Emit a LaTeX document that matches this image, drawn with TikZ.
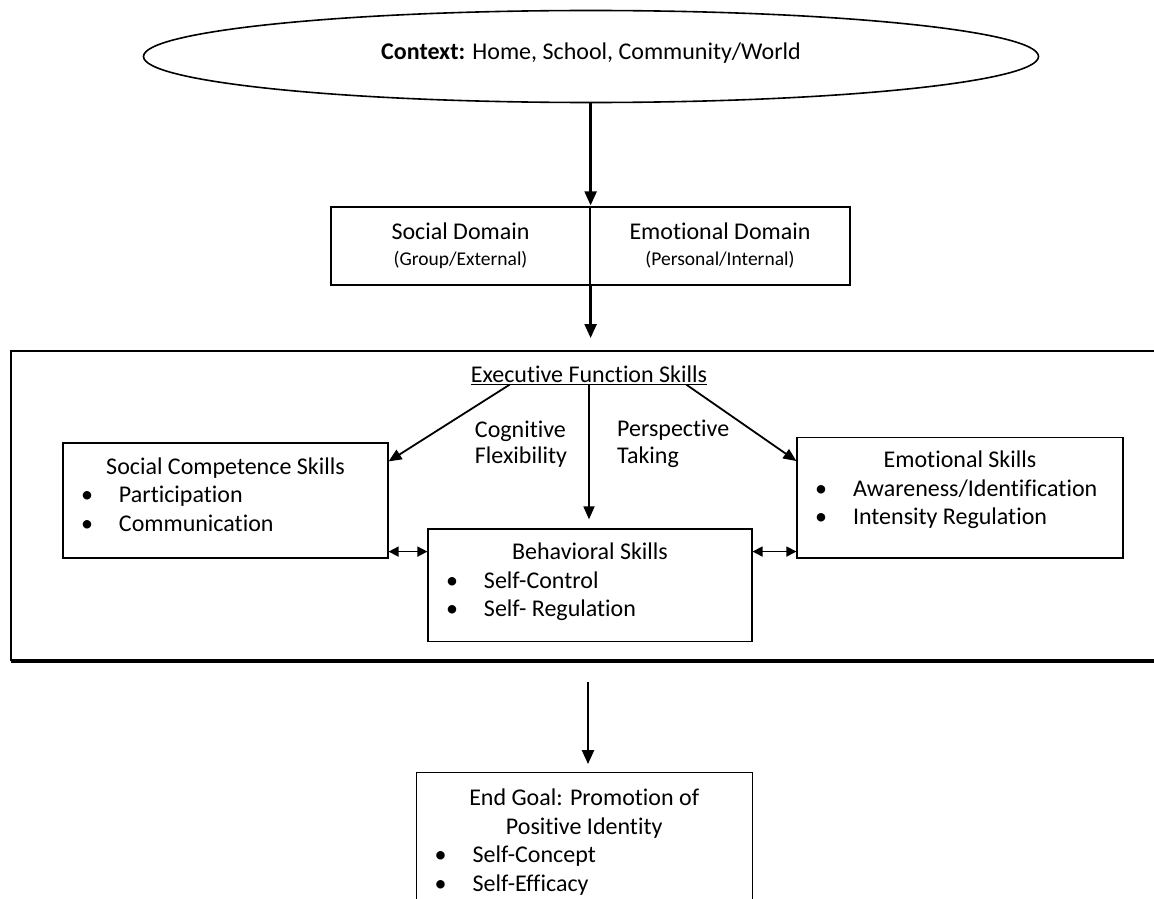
\documentclass[tikz,border=0pt]{standalone}
\usepackage{fontspec}
\setmainfont{Carlito}[Ligatures=NoCommon]
\usetikzlibrary{arrows.meta,shapes}
\newcommand{\bitem}[1]{\par\hspace*{18pt}\makebox[38pt][l]{\textbullet}#1}

\begin{document}
\begin{tikzpicture}[x=1pt,y=-1pt]
\useasboundingbox (0,0) rectangle (1154,899);
\tikzstyle{ctx}=[ellipse,draw,line width=1.6pt,minimum width=895,minimum height=92,inner sep=0pt,
font=\fontsize{24}{28.5}\selectfont]
\tikzstyle{domainbox}=[rectangle,draw,line width=1.2pt,minimum width=259,minimum height=78,inner sep=0pt,
align=center,font=\fontsize{24}{26}\selectfont]
\tikzstyle{skill}=[rectangle,draw,line width=1.2pt,inner sep=0pt,font=\fontsize{24}{28.5}\selectfont]
\tikzstyle{notetext}=[inner sep=0pt,align=left,font=\fontsize{24}{26.5}\selectfont]

\node[ctx] (context) at (591,56.5) {\raisebox{10pt}{\textbf{Context:} Home, School, Community/World}};
\node[domainbox] (socdom) at (460.5,246) {Social Domain\\{\fontsize{19.5}{22}\selectfont (Group/External)}};
\node[domainbox,minimum width=260] (emodom) at (720,246) {Emotional Domain\\{\fontsize{19.5}{22}\selectfont (Personal/Internal)}};

% frame round the skills
\coordinate (fnw) at (11,351);
\coordinate (fne) at (1154,351);
\coordinate (fsw) at (11,661);
\coordinate (fse) at (1154,661);
\draw[line width=1.2pt] (fne) -- (fnw) -- (fsw);
\draw[line width=3.4pt] (fsw) -- (fse);

\node[notetext] (exec) at (589,375) {\underline{Executive Function Skills}};
\node[notetext] (cogflex) at (521,444) {Cognitive\\Flexibility};
\node[notetext,anchor=west] (persp) at (617,444) {Perspective\\Taking};

\node[skill] (social) at (225.5,500.5) {\parbox[c][115pt][t]{325pt}{{\centering\rule{0pt}{31pt}Social Competence Skills\par}
\raggedright\bitem{Participation}\bitem{Communication}}};
\node[skill] (behav) at (590,585.3) {\parbox[c][112.7pt][t]{324pt}{{\centering\rule{0pt}{31pt}Behavioral Skills\par}
\raggedright\bitem{Self-Control}\bitem{Self- Regulation}}};
\node[skill] (emotion) at (960,497.8) {\parbox[c][120.3pt][t]{326pt}{{\centering\rule{0pt}{30.3pt}Emotional Skills\par}
\raggedright\bitem{Awareness/Identification}\bitem{Intensity Regulation}}};

\node[skill,draw=none] (goal) at (584.2,835.85) {\parbox[c][126.3pt][t]{335pt}{{\centering\rule{0pt}{33pt}End Goal: Promotion of\\Positive Identity\par}
\raggedright\bitem{Self-Concept}\bitem{Self-Efficacy}}};
\draw[line width=1.2pt] (goal.south west) |- (goal.north east) -- (goal.south east);

\tikzstyle{flow}=[-{Triangle[length=14pt,width=12pt]},line width=2.4pt]
\tikzstyle{branch}=[-{Triangle[length=13pt,width=11pt]},line width=1.8pt]
\tikzstyle{link}=[{Triangle[length=10pt,width=10pt]}-{Triangle[length=10pt,width=10pt]},line width=1.6pt]
\draw[flow,shorten >=1pt] (socdom.north east |- context.south) -- (socdom.north east);
\draw[flow,shorten >=13pt] (socdom.south east) -- (socdom.south east |- fnw);
\draw[branch] ([xshift=39pt]exec.south west) -- ([yshift=-19pt]social.north east);
\draw[branch] ([xshift=-21pt]exec.south east) -- ([yshift=-24pt]emotion.north west);
\draw[branch,shorten >=9pt] (exec.south) -- (exec.south |- behav.north);
\coordinate (sb) at ([yshift=7pt]social.south east);
\coordinate (eb) at ([yshift=7pt]emotion.south west);
\draw[link] (sb) -- (sb -| behav.west);
\draw[link] (behav.east |- eb) -- (eb);
\coordinate (fbot) at (588,661);
\draw[flow,shorten <=21pt,shorten >=8pt] (fbot) -- (fbot |- goal.north);
\end{tikzpicture}
\end{document}
